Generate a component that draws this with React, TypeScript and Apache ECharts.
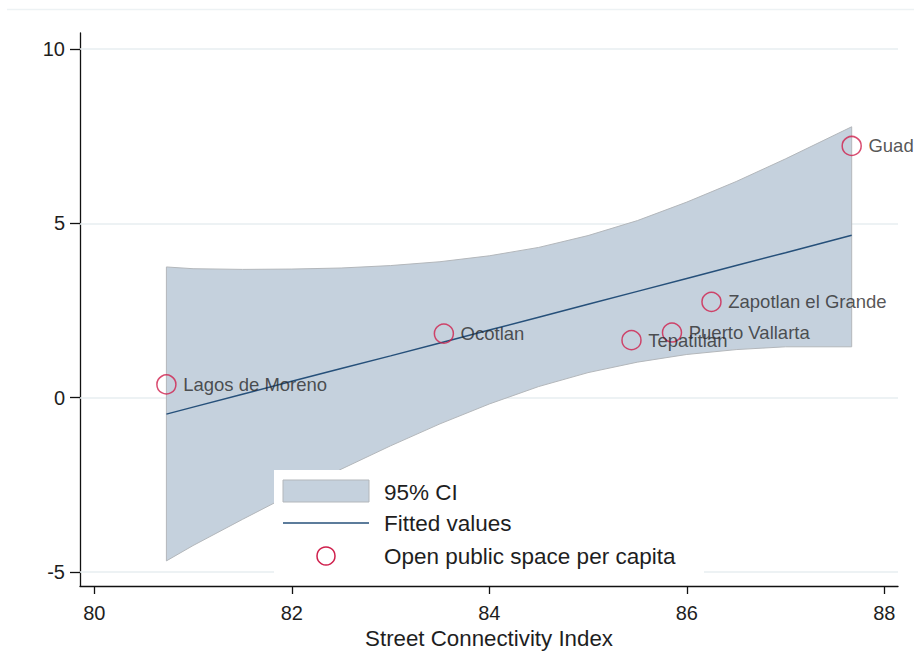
import { useEffect, useRef } from "react";
import * as echarts from "echarts";

// Municipalities and their observed values
const cities = [
  "Lagos de Moreno",
  "Ocotlan",
  "Tepatitlan",
  "Puerto Vallarta",
  "Zapotlan el Grande",
  "Guadalajara",
];
const connectivity = [80.73, 83.54, 85.44, 85.85, 86.25, 87.67];
const openSpace = [0.38, 1.84, 1.65, 1.87, 2.75, 7.22];

// Linear fit and its 95% confidence band
const ciX = [80.73, 81.0, 81.5, 82.0, 82.5, 83.0, 83.5, 84.0, 84.5, 85.0, 85.5, 86.0, 86.5, 87.0, 87.67];
const ciUpper = [3.75, 3.7, 3.68, 3.69, 3.72, 3.79, 3.9, 4.07, 4.31, 4.65, 5.08, 5.61, 6.2, 6.85, 7.77];
const ciLower = [-4.68, -4.24, -3.49, -2.76, -2.05, -1.38, -0.75, -0.18, 0.32, 0.72, 1.02, 1.24, 1.38, 1.46, 1.46];
const fitted = [-0.47, -0.27, 0.1, 0.47, 0.84, 1.2, 1.57, 1.94, 2.31, 2.68, 3.05, 3.42, 3.79, 4.16, 4.66];

// Axis ticks
const xTicks = [80, 82, 84, 86, 88];
const yTicks = [-5, 0, 5, 10];
const xTitle = "Street Connectivity Index";
const legendLabels = ["95% CI", "Fitted values", "Open public space per capita"];

const FONT = "'Liberation Sans', Arial, sans-serif";
const BAND_FILL = "#c5d1dd";
const BAND_EDGE = "#b3b7bb";
const LINE_COLOR = "#26507a";
const MARKER_COLOR = "#cf1f4c";
const TEXT = "#1e1e1e";
const GRID = "#e7eef1";

export default function App() {
  const ref = useRef<HTMLDivElement>(null);

  useEffect(() => {
    if (!ref.current) return;
    const chart = echarts.init(ref.current, undefined, { renderer: "svg" });

    const bandPoints = ciX.map((x, i) => [x, ciUpper[i]]).concat(
      ciX.map((x, i) => [x, ciLower[i]]).reverse()
    );

    const legendText = (text: string, y: number) => ({
      type: "text",
      x: 110,
      y,
      style: { text, fontFamily: FONT, fontSize: 22.5, fill: TEXT, verticalAlign: "middle" },
      z: 101,
    });

    chart.setOption({
      animation: false,
      backgroundColor: "#fff",
      grid: { left: 80, right: 16, top: 33, bottom: 81, containLabel: false },
      xAxis: {
        type: "value",
        min: 79.855,
        max: 88.139,
        name: xTitle,
        nameLocation: "middle",
        nameGap: 37,
        nameTextStyle: { fontFamily: FONT, fontSize: 22.3, color: TEXT },
        axisLine: { show: true, onZero: false, lineStyle: { color: "#111", width: 1.3 } },
        axisTick: { show: true, length: 8, customValues: xTicks, lineStyle: { color: "#111", width: 1.3 } },
        axisLabel: { customValues: xTicks, margin: 17, fontFamily: FONT, fontSize: 20, color: TEXT },
        splitLine: { show: false },
      },
      yAxis: {
        type: "value",
        min: -5.4,
        max: 10.46,
        axisLine: { show: true, onZero: false, lineStyle: { color: "#111", width: 1.3 } },
        axisTick: { show: true, length: 10, customValues: yTicks, lineStyle: { color: "#111", width: 1.3 } },
        axisLabel: { customValues: yTicks, margin: 15, fontFamily: FONT, fontSize: 20, color: TEXT },
        splitLine: { show: false },
      },
      graphic: [
        {
          type: "line",
          shape: { x1: 7, y1: 9.5, x2: 914, y2: 9.5 },
          style: { stroke: "#edf2f4", lineWidth: 1.5 },
          silent: true,
        },
        {
          type: "group",
          left: 274,
          top: 470,
          z: 100,
          children: [
            { type: "rect", shape: { x: 0, y: 0, width: 430, height: 108 }, style: { fill: "#fff" }, z: 100 },
            {
              type: "rect",
              shape: { x: 9, y: 10, width: 86, height: 22 },
              style: { fill: BAND_FILL, stroke: BAND_EDGE, lineWidth: 1 },
              z: 101,
            },
            legendText(legendLabels[0], 22),
            {
              type: "line",
              shape: { x1: 9, y1: 53, x2: 95, y2: 53 },
              style: { stroke: LINE_COLOR, lineWidth: 1.5 },
              z: 101,
            },
            legendText(legendLabels[1], 53),
            {
              type: "circle",
              shape: { cx: 52, cy: 86, r: 9 },
              style: { fill: "none", stroke: MARKER_COLOR, lineWidth: 1.5 },
              z: 101,
            },
            legendText(legendLabels[2], 86),
          ],
        },
      ],
      series: [
        {
          type: "custom",
          name: legendLabels[0],
          z: 2,
          silent: true,
          data: [[ciX[0], ciLower[0]]],
          renderItem: (_params: any, api: any) => {
            const pts = bandPoints.map((p) => api.coord(p));
            return {
              type: "polygon",
              shape: { points: pts },
              style: { fill: BAND_FILL, stroke: BAND_EDGE, lineWidth: 1 },
            };
          },
          markLine: {
            silent: true,
            symbol: "none",
            z: 1,
            label: { show: false },
            lineStyle: { color: GRID, width: 1.5, type: "solid" },
            data: yTicks.map((v) => ({ yAxis: v })),
          },
        },
        {
          type: "line",
          name: legendLabels[1],
          z: 3,
          silent: true,
          showSymbol: false,
          data: ciX.map((x, i) => [x, fitted[i]]),
          lineStyle: { color: LINE_COLOR, width: 1.5 },
        },
        {
          type: "scatter",
          name: legendLabels[2],
          z: 4,
          symbol: "circle",
          symbolSize: 19,
          itemStyle: { color: "rgba(0,0,0,0)", borderColor: MARKER_COLOR, borderWidth: 1.5 },
          label: {
            show: true,
            position: "right",
            distance: 6.5,
            formatter: (p: any) => p.name,
            fontFamily: FONT,
            fontSize: 18.5,
            color: "#2a2a2a",
          },
          data: cities.map((c, i) => ({ name: c, value: [connectivity[i], openSpace[i]] })),
        },
      ],
    });

    return () => chart.dispose();
  }, []);

  return (
    <div
      ref={ref}
      style={{ position: "fixed", left: 0, top: 0, width: 914, height: 667, background: "#fff" }}
    />
  );
}
